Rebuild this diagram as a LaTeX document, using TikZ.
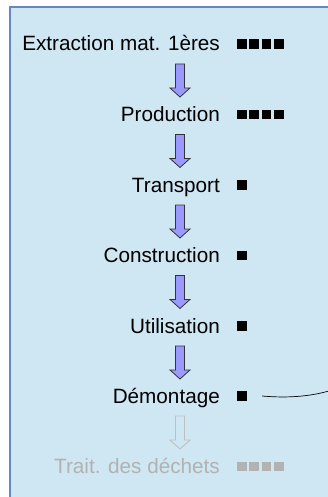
\documentclass[tikz,border=0pt]{standalone}
\usepackage{fontspec}
\setmainfont{Liberation Sans}
\definecolor{panelfill}{RGB}{207,230,243}
\definecolor{panelline}{RGB}{102,136,194}
\definecolor{arrowfill}{RGB}{153,153,255}
\definecolor{fadegray}{RGB}{178,178,178}
\tikzset{
  stage/.style={anchor=base east, inner sep=0pt, font=\fontsize{20.7}{24}\selectfont},
  faded/.style={text=fadegray},
  sq/.style={fill=black, draw=none, minimum size=9.6pt, inner sep=0pt, outer sep=0pt},
  graysq/.style={sq, fill=fadegray},
  blockarrow/.style={draw=black!80, fill=arrowfill, line width=0.8pt, line join=miter},
  ghostarrow/.style={draw=fadegray!85, fill=panelfill, line width=0.8pt},
  downarrow/.pic={\path[pic actions] (-4.5,0) -- (-4.5,24) -- (-10,24) -- (0,33) -- (10,24) -- (4.5,24) -- (4.5,0) -- cycle;}
}
\begin{document}
\begin{tikzpicture}[x=1pt,y=-1pt]
\clip (0,0) rectangle (328,497);
\fill[white] (0,0) rectangle (328,497);
\draw[panelline, fill=panelfill, line width=1.5pt] (10,7) rectangle (345,515);

\node[stage] (ext) at (220,51) {Extraction mat. 1ères};
\node[stage] (pro) at (220,121.5) {Production};
\node[stage] (tra) at (220,192) {Transport};
\node[stage] (con) at (220,262.5) {Construction};
\node[stage] (uti) at (220,333) {Utilisation};
\node[stage] (dem) at (220,403) {Démontage};
\node[stage, faded] (dec) at (220,473.5) {Trait. des déchets};

% impact squares
\foreach \r/\y in {ext/44, pro/114.5}{
  \foreach \i in {0,1,2,3}{
    \node[sq] (\r-s\i) at (241.8+\i*12.3,\y) {};
  }
}
\foreach \r/\y in {tra/185, con/255.5, uti/326, dem/396}{
  \node[sq] (\r-s0) at (241.8,\y) {};
}
\foreach \i in {0,1,2,3}{
  \node[graysq] (dec-s\i) at (241.8+\i*12.3,466.5) {};
}

% block arrows
\foreach \y in {64,134.5,205,275.5,346}{
  \pic[blockarrow] at (180,\y) {downarrow};
}
\pic[ghostarrow] at (180,416) {downarrow};

% connector leaving Démontage
\coordinate (out) at (335,389);
\draw[black, line width=0.7pt] ([xshift=15.5pt]dem-s0.east) .. controls (290,398.5) and (315,396) .. (out);
\end{tikzpicture}
\end{document}
